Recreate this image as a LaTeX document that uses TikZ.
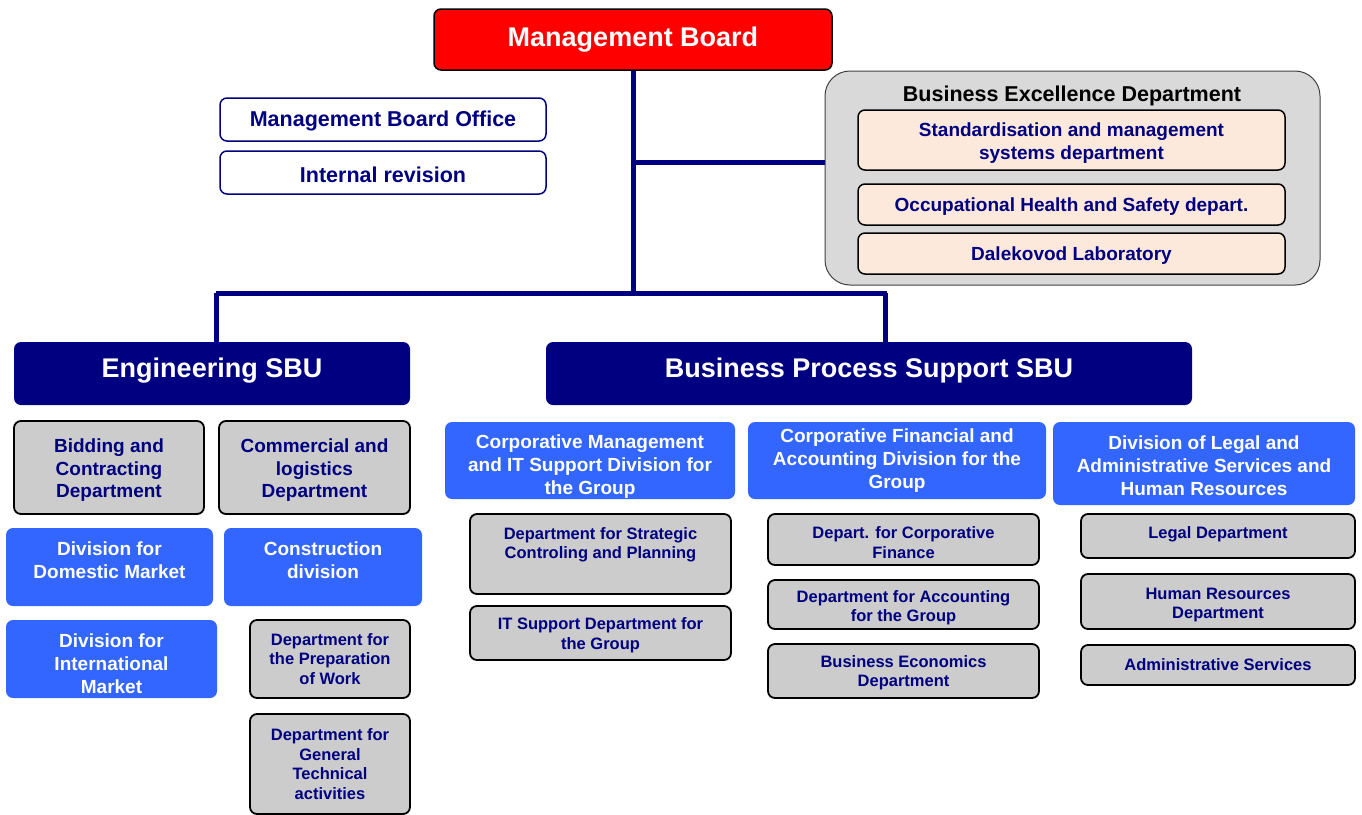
\documentclass[tikz,border=0pt]{standalone}
\usepackage{fontspec}
\setmainfont{Liberation Sans}
\usepackage{tikz}
\definecolor{navy}{RGB}{0,0,128}
\definecolor{divblue}{RGB}{51,102,255}
\definecolor{deptgray}{RGB}{204,204,204}
\definecolor{bexgray}{RGB}{217,217,217}
\definecolor{peach}{RGB}{252,233,220}
\begin{document}
\begin{tikzpicture}[x=1pt,y=-1pt,
		base/.style={rounded corners=7pt,align=center,inner sep=0pt,font=\bfseries},
		mbbox/.style={base,fill=red,draw=black,line width=1.5pt,text=white,font=\bfseries\fontsize{27}{30}\selectfont},
		officebox/.style={base,fill=white,draw=navy,line width=1.5pt,text=navy,text height=19.5pt,font=\bfseries\fontsize{21.5}{24}\selectfont},
		bexbox/.style={base,fill=bexgray,draw=black!75,line width=1pt,rounded corners=25pt},
		peachbox/.style={base,fill=peach,draw=black,line width=1.5pt,text=navy,font=\bfseries\fontsize{19}{23}\selectfont},
		sbubox/.style={base,fill=navy,text=white,text depth=11pt,font=\bfseries\fontsize{27}{30}\selectfont},
		divbox/.style={base,fill=divblue,text=white,font=\bfseries\fontsize{19}{23}\selectfont},
		deptbox/.style={base,fill=deptgray,draw=black,line width=1.8pt,text=navy,font=\bfseries\fontsize{19}{22.5}\selectfont},
		smalldept/.style={deptbox,font=\bfseries\fontsize{16.5}{19.5}\selectfont},
		conn/.style={draw=navy,line width=5pt}]
	\useasboundingbox (0,0) rectangle (1362,814);

	\node[mbbox,minimum width=398pt,minimum height=61pt] (mb) at (633,39.5) {Management Board};
	\node[officebox,minimum width=326pt,minimum height=43pt] (office) at (383,119.5) {Management Board Office};
	\node[officebox,minimum width=326pt,minimum height=43pt] (revision) at (383,172.5) {Internal revision};

	\node[bexbox,minimum width=495pt,minimum height=214pt] (bex) at (1072.5,178) {};
	\node[font=\bfseries\fontsize{21.5}{24}\selectfont] (bextitle) at (1072,96) {Business Excellence Department};
	\node[peachbox,minimum width=427pt,minimum height=60pt,text height=43pt] (stand) at (1071.5,140) {Standardisation and management\\systems department};
	\node[peachbox,minimum width=427pt,minimum height=41pt,text height=18pt] (ohs) at (1071.5,204.5) {Occupational Health and Safety depart.};
	\node[peachbox,minimum width=427pt,minimum height=41pt,text height=18pt] (lab) at (1071.5,253.5) {Dalekovod Laboratory};

	\node[sbubox,minimum width=396pt,minimum height=63pt] (eng) at (212,373.5) {Engineering SBU};
	\node[sbubox,minimum width=646pt,minimum height=63pt] (bps) at (869,373.5) {Business Process Support SBU};

	\coordinate (barL) at (216,293);
	\coordinate (barR) at (887,293);
	\coordinate (bpsin) at (885,293);
	\coordinate (bexin) at (825,162);
	\draw[conn] (mb.south) -- (mb.south |- barL);
	\draw[conn] (mb.south |- bexin) -- (bexin);
	\draw[conn] (barL) -- (barR);
	\draw[conn] (barL) -- (barL |- eng.north);
	\draw[conn] (bpsin) -- (bpsin |- bps.north);

	\node[deptbox,minimum width=190pt,minimum height=93pt,text height=64pt] (bidding) at (109,467.5) {Bidding and\\Contracting\\Department};
	\node[deptbox,minimum width=191pt,minimum height=93pt,text height=64pt] (commercial) at (314.5,467.5) {Commercial and\\logistics\\Department};
	\node[divbox,minimum width=207pt,minimum height=78pt,text depth=14pt] (domestic) at (109.5,567) {Division for\\Domestic Market};
	\node[divbox,minimum width=198pt,minimum height=78pt,text depth=14pt] (construction) at (323,567) {Construction\\division};
	\node[divbox,minimum width=211pt,minimum height=78pt,text height=70pt] (international) at (111.5,659) {Division for\\International\\Market};
	\node[smalldept,minimum width=160pt,minimum height=78pt] (preparation) at (330,659) {Department for\\the Preparation\\of Work};
	\node[smalldept,minimum width=160pt,minimum height=100pt] (technical) at (330,764) {Department for\\General\\Technical\\activities};

	\node[divbox,minimum width=290pt,minimum height=77pt,text height=72pt] (corpmgmt) at (590,460.5) {Corporative Management\\and IT Support Division for\\the Group};
	\node[divbox,minimum width=298pt,minimum height=77pt] (corpfin) at (897,460.5) {Corporative Financial and\\Accounting Division for the\\Group};
	\node[divbox,minimum width=302pt,minimum height=83pt,text height=64pt] (legaldiv) at (1204,463.5) {Division of Legal and\\Administrative Services and\\Human Resources};

	\node[smalldept,minimum width=261pt,minimum height=80pt,text depth=22pt] (strategic) at (600.5,554) {Department for Strategic\\Controling and Planning};
	\node[smalldept,minimum width=261pt,minimum height=54pt,text height=35.5pt] (itsupport) at (600.5,633) {IT Support Department for\\the Group};
	\node[smalldept,minimum width=271pt,minimum height=51pt,text height=37.5pt] (corpfinance) at (903.5,539.5) {Depart. for Corporative\\Finance};
	\node[smalldept,minimum width=271pt,minimum height=49pt,text height=37.5pt] (accounting) at (903.5,604.5) {Department for Accounting\\for the Group};
	\node[smalldept,minimum width=271pt,minimum height=54pt,text height=34.5pt] (busecon) at (903.5,671) {Business Economics\\Department};
	\node[smalldept,minimum width=274pt,minimum height=44pt,text depth=7pt] (legal) at (1218,536) {Legal Department};
	\node[smalldept,minimum width=274pt,minimum height=55pt,text height=37.5pt] (hr) at (1218,601.5) {Human Resources\\Department};
	\node[smalldept,minimum width=274pt,minimum height=40pt] (admin) at (1218,665) {Administrative Services};
\end{tikzpicture}
\end{document}
